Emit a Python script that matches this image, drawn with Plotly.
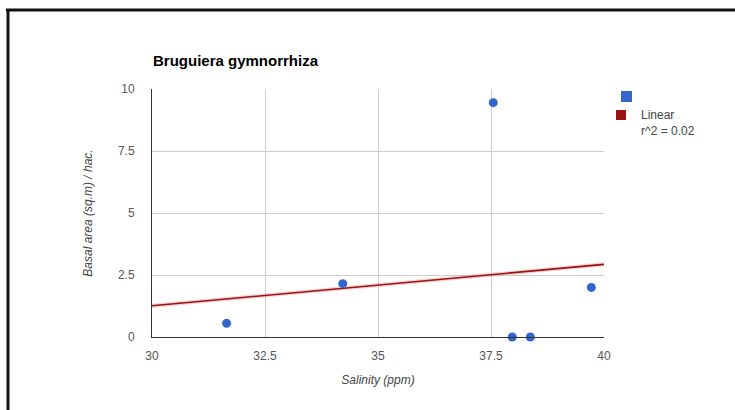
import numpy as np
import plotly.graph_objects as go

# Survey plots: salinity versus basal area of Bruguiera gymnorrhiza
salinity_ppm = [31.65, 34.22, 37.55, 37.97, 38.37, 39.72]
basal_area = [0.55, 2.15, 9.45, 0.0, 0.0, 2.0]

x_ticks = [30, 32.5, 35, 37.5, 40]
y_ticks = [0, 2.5, 5, 7.5, 10]

FONT = "Arial, Liberation Sans, sans-serif"
POINT_BLUE = "#3366cc"
TREND_RED = "#9a1414"
TEXT_SIZE = 12
TICK_GREY = "#555555"
LABEL_GREY = "#444444"

# Linear trendline fitted to the points
slope, intercept = np.polyfit(salinity_ppm, basal_area, 1)
fit_x = np.array([x_ticks[0], x_ticks[-1]])
fit_y = slope * fit_x + intercept
pred = slope * np.array(salinity_ppm) + intercept
ss_res = np.sum((np.array(basal_area) - pred) ** 2)
ss_tot = np.sum((np.array(basal_area) - np.mean(basal_area)) ** 2)
r2 = 1 - ss_res / ss_tot

fig = go.Figure()

# soft halo under the trendline
fig.add_trace(go.Scatter(
    x=fit_x, y=fit_y, mode="lines",
    line=dict(color="rgba(230,120,120,0.35)", width=4),
    hoverinfo="skip", showlegend=False,
))
fig.add_trace(go.Scatter(
    x=fit_x, y=fit_y, mode="lines",
    line=dict(color=TREND_RED, width=1.6),
    showlegend=False,
))
fig.add_trace(go.Scatter(
    x=salinity_ppm, y=basal_area, mode="markers",
    marker=dict(color=POINT_BLUE, size=9, line=dict(width=0)),
    cliponaxis=False, showlegend=False,
))

# plot area geometry in pixels (figure is 735 x 410)
L, R, T, B = 152, 604, 89, 337
W, H = R - L, B - T


def px(xp):
    return (xp - L) / W


def py(yp):
    return (B - yp) / H


shapes = [
    # frame lines along the top and left edge of the page
    dict(type="line", xref="paper", yref="paper",
         x0=px(6), x1=px(740), y0=py(10), y1=py(10),
         line=dict(color="#111111", width=3)),
    dict(type="line", xref="paper", yref="paper",
         x0=px(8), x1=px(8), y0=py(9), y1=py(415),
         line=dict(color="#111111", width=3)),
    # legend swatches
    dict(type="rect", xref="paper", yref="paper",
         x0=px(621), x1=px(632), y0=py(91), y1=py(102),
         fillcolor=POINT_BLUE, line=dict(width=0)),
    dict(type="rect", xref="paper", yref="paper",
         x0=px(616), x1=px(626), y0=py(110), y1=py(120),
         fillcolor=TREND_RED, line=dict(width=0)),
]

annotations = [
    dict(text="<b>Bruguiera gymnorrhiza</b>", xref="paper", yref="paper",
         x=px(151), y=py(60), xanchor="left", yanchor="middle",
         showarrow=False, font=dict(family=FONT, size=15, color="#000000")),
    dict(text="Linear", xref="paper", yref="paper",
         x=px(639), y=py(115), xanchor="left", yanchor="middle",
         showarrow=False, font=dict(family=FONT, size=TEXT_SIZE, color=LABEL_GREY)),
    dict(text=f"r^2 = {r2:.2f}", xref="paper", yref="paper",
         x=px(639), y=py(131), xanchor="left", yanchor="middle",
         showarrow=False, font=dict(family=FONT, size=TEXT_SIZE, color=LABEL_GREY)),
]

fig.update_layout(
    width=735, height=410,
    margin=dict(l=L, r=735 - R, t=T, b=410 - B, pad=0),
    paper_bgcolor="white", plot_bgcolor="white",
    font=dict(family=FONT, size=TEXT_SIZE, color=TICK_GREY),
    showlegend=False,
    shapes=shapes,
    annotations=annotations,
)

fig.update_xaxes(
    range=[x_ticks[0], x_ticks[-1]], tickvals=x_ticks,
    ticktext=[f"{v:g}" for v in x_ticks],
    showgrid=True, gridcolor="#cccccc", gridwidth=1,
    showline=True, linecolor="#333333", linewidth=1,
    zeroline=False, ticks="", ticklabelstandoff=8,
    tickfont=dict(family=FONT, size=TEXT_SIZE, color=TICK_GREY),
    title=dict(text="<i>Salinity (ppm)</i>", standoff=13,
               font=dict(family=FONT, size=TEXT_SIZE, color=LABEL_GREY)),
)
fig.update_yaxes(
    range=[y_ticks[0], y_ticks[-1]], tickvals=y_ticks,
    ticktext=[f"{v:g}" for v in y_ticks],
    showgrid=True, gridcolor="#cccccc", gridwidth=1,
    showline=True, linecolor="#333333", linewidth=1,
    zeroline=False, ticks="", ticklabelstandoff=14,
    tickfont=dict(family=FONT, size=TEXT_SIZE, color=TICK_GREY),
    title=dict(text="<i>Basal area (sq.m) / hac.</i>", standoff=22,
               font=dict(family=FONT, size=TEXT_SIZE, color=LABEL_GREY)),
)

fig.write_html("out.html")
